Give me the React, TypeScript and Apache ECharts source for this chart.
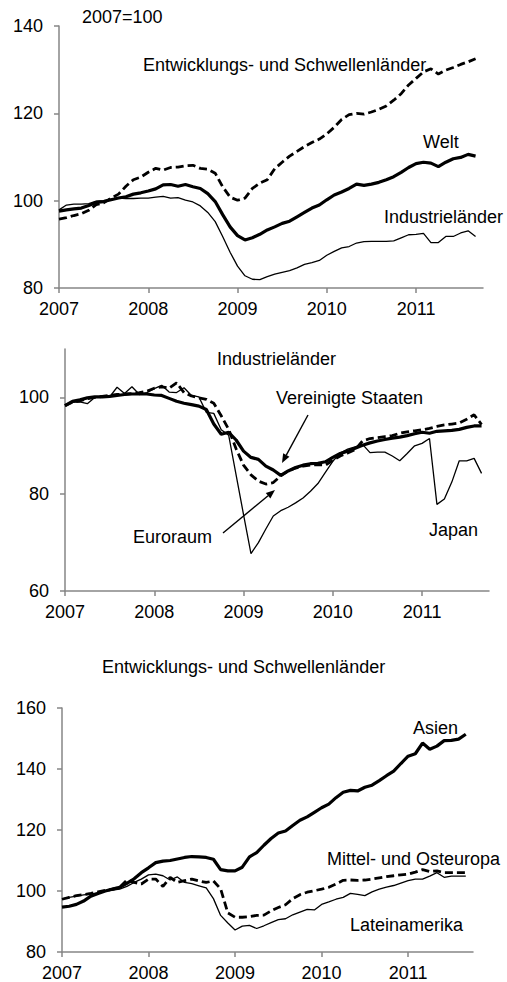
import React, { useEffect, useRef } from "react";
import * as echarts from "echarts";

// Monthly index values, Jan 2007 (index 0) .. Sep 2011 (index 56)
const yearLabels = ["2007", "2008", "2009", "2010", "2011"];
const yearTickMonths = [0, 12, 24, 36, 48];

// Panel 1: Welt
const welt = [
  97.6, 97.9, 98.1, 98.3, 98.9, 99.6, 99.8, 100.2, 100.6, 100.9,
  101.5, 101.8, 102.2, 102.7, 103.6, 103.7, 103.3, 103.7, 103.2, 102.8,
  101.6, 99.8, 96.8, 94.0, 92.0, 91.0, 91.5, 92.3, 93.3, 94.0,
  94.8, 95.3, 96.3, 97.3, 98.3, 99.0, 100.2, 101.3, 102.0, 102.8,
  103.8, 103.5, 103.8, 104.2, 104.8, 105.5, 106.5, 107.6, 108.5, 108.8,
  108.6, 107.8, 108.8, 109.6, 109.9, 110.6, 110.2,
];
const entwicklung = [
  95.8, 96.1, 96.6, 97.0, 97.8, 99.1, 99.5, 100.6, 101.5, 103.3,
  104.8, 105.4, 106.5, 107.4, 107.0, 107.6, 107.7, 108.0, 108.1, 107.4,
  107.2, 106.3, 103.2, 100.8, 100.1, 100.6, 102.8, 104.0, 104.8, 107.3,
  108.8, 110.2, 111.3, 112.4, 113.3, 114.1, 115.3, 116.8, 118.6, 119.7,
  120.0, 119.8, 120.3, 120.9, 121.7, 123.0, 124.5, 126.5, 128.0, 129.5,
  130.2, 129.0, 129.9, 130.5, 131.2, 131.8, 132.5,
];
const industrie = [
  97.9, 99.0, 99.2, 99.2, 99.3, 99.9, 100.0, 100.3, 100.6, 100.5,
  100.5, 100.6, 100.6, 100.8, 101.0, 100.6, 100.7, 100.1, 99.7, 98.8,
  97.3, 95.2, 91.8, 88.2, 85.0, 82.8, 82.0, 81.9, 82.6, 83.2,
  83.6, 84.0, 84.6, 85.4, 85.8, 86.3, 87.5, 88.4, 89.2, 89.5,
  90.3, 90.6, 90.7, 90.7, 90.7, 90.8, 91.5, 92.2, 92.3, 92.5,
  90.4, 90.4, 91.8, 91.8, 92.6, 93.1, 91.8,
];

// Panel 2: Industrieländer
const usa = [
  98.3, 99.2, 99.5, 99.9, 100.1, 100.1, 100.2, 100.4, 100.6, 100.7,
  100.7, 100.7, 100.5, 100.4, 99.8, 99.2, 98.8, 98.5, 98.2, 97.5,
  94.5, 92.4, 92.8, 91.2, 88.9, 87.6, 87.2, 85.8, 85.0, 83.9,
  84.8, 85.5, 86.0, 86.3, 86.4, 86.7, 87.6, 88.4, 88.9, 89.5,
  90.1, 90.6, 91.0, 91.3, 91.6, 91.8, 92.1, 92.5, 92.8, 92.6,
  93.0, 93.1, 93.2, 93.4, 93.8, 94.1, 94.1,
];
const euro = [
  98.3, 99.0, 99.3, 99.7, 100.0, 100.2, 100.4, 100.6, 100.7, 100.8,
  101.0, 101.3, 101.9, 102.2, 101.9, 103.0, 101.0, 100.3, 99.9, 99.6,
  98.8, 96.2, 93.4, 89.4, 86.0, 84.0, 82.7, 82.1, 82.4, 83.8,
  84.8, 85.4, 85.8, 86.0, 86.1, 86.0, 87.0, 87.9, 88.5, 89.2,
  91.0, 91.5, 91.7, 91.9, 92.1, 92.6, 92.9, 93.1, 93.3, 93.6,
  94.0, 94.3, 94.5, 94.7, 95.5, 96.4, 94.4,
];
const japan = [
  98.3, 99.0, 99.1, 98.7, 100.0, 100.0, 100.1, 102.1, 100.8, 102.2,
  100.6, 101.0, 101.8, 102.5, 101.1, 101.0, 102.0, 100.4, 100.1, 96.9,
  96.7, 93.3, 92.2, 84.0, 75.8, 67.7, 70.0, 72.8, 75.5, 76.6,
  77.3, 78.2, 79.2, 80.6, 82.2, 84.5, 86.8, 88.5, 89.3, 89.8,
  90.3, 88.6, 88.7, 88.7, 87.9, 86.9, 88.4, 90.0, 90.5, 91.5,
  77.9, 79.0, 82.5, 86.9, 86.9, 87.4, 84.3,
];

// Panel 3: Entwicklungs- und Schwellenländer
const asien = [
  94.7, 95.0, 95.6, 96.7, 98.3, 99.2, 100.0, 100.6, 101.2, 102.5,
  104.0, 106.0, 107.6, 109.3, 109.8, 110.0, 110.5, 111.0, 111.3, 111.2,
  111.0, 110.4, 107.0, 106.6, 106.6, 107.8, 111.2, 112.6, 115.0, 117.2,
  119.0, 119.7, 121.5, 123.2, 124.3, 125.8, 127.3, 128.5, 130.6, 132.4,
  133.0, 132.8, 134.0, 134.7, 136.2, 137.8, 139.3, 141.8, 144.2, 145.0,
  148.5, 146.5, 147.5, 149.3, 149.4, 149.8, 151.4,
];
const mittelOst = [
  97.3, 97.9, 98.5, 98.8, 99.2, 99.7, 100.2, 100.6, 101.2, 103.6,
  102.8, 102.3, 103.9, 103.9, 101.5, 104.5, 102.8, 103.4, 103.9, 103.3,
  102.8, 103.3, 100.7, 92.8, 91.4, 91.4, 91.6, 92.0, 92.1, 93.5,
  94.6, 95.5, 97.5, 98.8, 99.6, 100.1, 100.6, 101.2, 102.3, 103.5,
  103.6, 103.5, 103.6, 103.9, 104.3, 104.7, 105.0, 105.3, 105.5, 106.2,
  107.0, 106.4, 106.6, 106.0, 106.0, 106.0, 106.0,
];
const latein = [
  97.4, 97.9, 98.3, 98.7, 99.0, 99.5, 100.0, 100.3, 100.6, 101.5,
  102.8, 103.9, 105.3, 105.5, 105.0, 103.6, 104.6, 102.8, 102.4, 101.7,
  101.0, 97.5, 92.0, 89.5, 87.2, 88.5, 88.7, 87.7, 88.6, 89.6,
  90.6, 90.9, 92.2, 93.1, 94.0, 93.8, 95.6, 96.4, 97.3, 97.9,
  99.2, 98.9, 98.5, 99.7, 100.6, 101.3, 101.8, 102.6, 103.4, 103.9,
  103.9, 104.9, 106.0, 104.5, 104.9, 104.9, 104.9,
];

const FONT = '"Liberation Sans", Arial, sans-serif';
const AXIS_COLOR = "#868686";

function pts(arr: number[]) {
  return arr.map((v, i) => [i, v]);
}

function xAxisFor(gridIndex: number) {
  return {
    type: "value",
    gridIndex,
    min: 0,
    max: 57,
    interval: 12,
    axisLine: { show: true, onZero: false, lineStyle: { color: AXIS_COLOR, width: 1.5 } },
    axisTick: { show: true, length: 5, customValues: yearTickMonths, lineStyle: { color: AXIS_COLOR, width: 1.5 } },
    axisLabel: {
      customValues: yearTickMonths,
      margin: 12,
      color: "#000",
      fontSize: 18,
      fontFamily: FONT,
      formatter: (v: number) => (v % 12 === 0 ? yearLabels[v / 12] ?? "" : ""),
    },
    splitLine: { show: false },
  };
}

function yAxisFor(gridIndex: number, min: number, max: number, ticks: number[]) {
  return {
    type: "value",
    gridIndex,
    min,
    max,
    interval: 20,
    axisLine: { show: true, lineStyle: { color: AXIS_COLOR, width: 1.5 } },
    axisTick: { show: true, length: 5, customValues: ticks, lineStyle: { color: AXIS_COLOR, width: 1.5 } },
    axisLabel: {
      customValues: ticks,
      margin: 16,
      color: "#000",
      fontSize: 18,
      fontFamily: FONT,
      formatter: (v: number) => (ticks.indexOf(v) >= 0 ? String(v) : ""),
    },
    splitLine: { show: false },
  };
}

function line(name: string, data: number[], idx: number, kind: "thick" | "thin" | "dash") {
  const ls: any = { color: "#000" };
  if (kind === "thick") ls.width = 3.2;
  if (kind === "thin") ls.width = 1.3;
  if (kind === "dash") {
    ls.width = 2.8;
    ls.type = [8, 4];
  }
  return {
    name,
    type: "line",
    xAxisIndex: idx,
    yAxisIndex: idx,
    data: pts(data),
    showSymbol: false,
    symbol: "none",
    lineStyle: ls,
    z: kind === "thin" ? 2 : 3,
  };
}

function label(text: string, x: number, y: number) {
  return {
    type: "text",
    x,
    y,
    z: 10,
    style: {
      text,
      fill: "#000",
      fontSize: 18,
      fontFamily: FONT,
      verticalAlign: "middle",
      align: "left",
    },
  };
}

function arrow(x1: number, y1: number, x2: number, y2: number) {
  const dx = x2 - x1;
  const dy = y2 - y1;
  const len = Math.sqrt(dx * dx + dy * dy);
  const ux = dx / len;
  const uy = dy / len;
  const px = -uy;
  const py = ux;
  const head = 9;
  const half = 3.6;
  const bx = x2 - ux * head;
  const by = y2 - uy * head;
  return [
    {
      type: "line",
      z: 10,
      shape: { x1, y1, x2: bx, y2: by },
      style: { stroke: "#000", lineWidth: 1.4 },
    },
    {
      type: "polygon",
      z: 10,
      shape: {
        points: [
          [x2, y2],
          [bx + px * half, by + py * half],
          [bx - px * half, by - py * half],
        ],
      },
      style: { fill: "#000" },
    },
  ];
}

export default function App() {
  const ref = useRef<HTMLDivElement>(null);
  useEffect(() => {
    document.body.style.margin = "0";
    const chart = echarts.init(ref.current!, null, { renderer: "svg" });
    const option: any = {
      animation: false,
      backgroundColor: "#fff",
      textStyle: { fontFamily: FONT },
      grid: [
        { left: 59, top: 26, width: 424, height: 262 },
        { left: 65, top: 349, width: 424, height: 242 },
        { left: 62, top: 708, width: 411, height: 245 },
      ],
      xAxis: [xAxisFor(0), xAxisFor(1), xAxisFor(2)],
      yAxis: [
        yAxisFor(0, 80, 140, [80, 100, 120, 140]),
        yAxisFor(1, 60, 110, [60, 80, 100]),
        yAxisFor(2, 80, 160, [80, 100, 120, 140, 160]),
      ],
      series: [
        line("Industrieländer", industrie, 0, "thin"),
        line("Welt", welt, 0, "thick"),
        line("Entwicklungs- und Schwellenländer", entwicklung, 0, "dash"),
        line("Japan", japan, 1, "thin"),
        line("Vereinigte Staaten", usa, 1, "thick"),
        line("Euroraum", euro, 1, "dash"),
        line("Lateinamerika", latein, 2, "thin"),
        line("Asien", asien, 2, "thick"),
        line("Mittel- und Osteuropa", mittelOst, 2, "dash"),
      ],
      graphic: [
        label("2007=100", 82, 17),
        label("Entwicklungs- und Schwellenländer", 143, 65),
        label("Welt", 423, 142),
        label("Industrieländer", 384, 217),
        label("Industrieländer", 217, 359),
        label("Vereinigte Staaten", 276, 398),
        label("Euroraum", 133, 537),
        label("Japan", 429, 530),
        label("Entwicklungs- und Schwellenländer", 102, 667),
        label("Asien", 413, 728),
        label("Mittel- und Osteuropa", 327, 859),
        label("Lateinamerika", 350, 925),
        ...arrow(308, 415, 282, 463),
        ...arrow(223, 533, 275, 490),
      ],
    };
    chart.setOption(option);
    return () => chart.dispose();
  }, []);
  return <div ref={ref} style={{ width: 507, height: 982 }} />;
}
